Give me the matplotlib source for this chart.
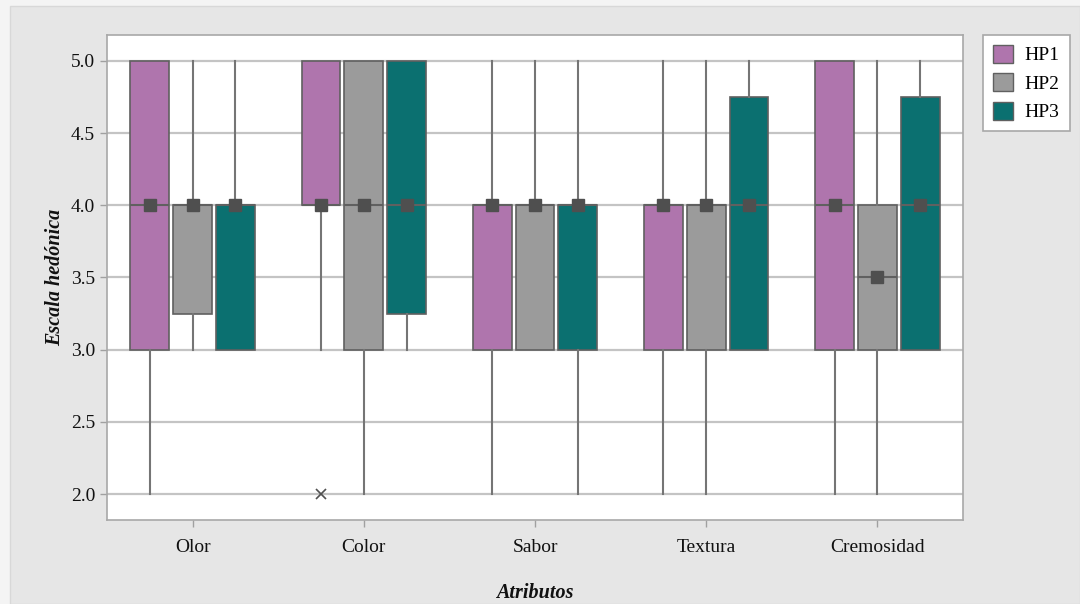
import matplotlib
matplotlib.use("Agg")
import matplotlib.pyplot as plt
from matplotlib.patches import Rectangle, Patch

categories = ["Olor", "Color", "Sabor", "Textura", "Cremosidad"]
series = ["HP1", "HP2", "HP3"]
colors = ["#AF75AD", "#9B9B9B", "#0B7070"]

# per series: lists over categories
q1 = {"HP1": [3, 4, 3, 3, 3],
      "HP2": [3.25, 3, 3, 3, 3],
      "HP3": [3, 3.25, 3, 3, 3]}
med = {"HP1": [4, 4, 4, 4, 4],
       "HP2": [4, 4, 4, 4, 3.5],
       "HP3": [4, 4, 4, 4, 4]}
q3 = {"HP1": [5, 5, 4, 4, 5],
      "HP2": [4, 5, 4, 4, 4],
      "HP3": [4, 5, 4, 4.75, 4.75]}
wlo = {"HP1": [2, 3, 2, 2, 2],
       "HP2": [3, 2, 3, 2, 2],
       "HP3": [3, 3, 2, 3, 3]}
whi = {"HP1": [5, 5, 5, 5, 5],
       "HP2": [5, 5, 5, 5, 5],
       "HP3": [5, 5, 5, 5, 5]}
fliers = {"HP1": [[], [2], [], [], []],
          "HP2": [[], [], [], [], []],
          "HP3": [[], [], [], [], []]}

plt.rcParams["font.family"] = ["Liberation Serif", "DejaVu Serif"]

fig = plt.figure(figsize=(10.8, 6.04), dpi=100, facecolor="#F4F4F4")
bg = Rectangle((10 / 1080, 0), 1 - 10 / 1080, 1 - 6 / 604,
               transform=fig.transFigure, facecolor="#E6E6E6",
               edgecolor="#D8D8D8", lw=1, zorder=-5)
fig.patches.append(bg)
ax = fig.add_axes([107 / 1080, 1 - 520 / 604, (963 - 107) / 1080, (520 - 35) / 604])
ax.set_zorder(1)
ax.set_facecolor("white")

offsets = [-0.25, 0.0, 0.25]
width = 0.227
for si, s in enumerate(series):
    stats = []
    for ci in range(len(categories)):
        stats.append(dict(q1=q1[s][ci], med=med[s][ci], q3=q3[s][ci],
                          whislo=wlo[s][ci], whishi=whi[s][ci],
                          fliers=fliers[s][ci]))
    pos = [ci + offsets[si] for ci in range(len(categories))]
    ax.bxp(stats, positions=pos, widths=width, patch_artist=True,
           showcaps=False, manage_ticks=False,
           boxprops=dict(facecolor=colors[si], edgecolor="#606060", lw=1.2),
           whiskerprops=dict(color="#757575", lw=1.5),
           medianprops=dict(color="#606060", lw=1.5),
           flierprops=dict(marker="x", markeredgecolor="#505050", markersize=7, mew=1.2),
           zorder=3)
    ax.plot(pos, med[s], linestyle="none", marker="s", markersize=8,
            color="#4F4F4F", zorder=5)

ax.set_xlim(-0.5, 4.5)
ax.set_ylim(1.82, 5.18)
ax.set_yticks([2.0, 2.5, 3.0, 3.5, 4.0, 4.5, 5.0])
ax.set_yticklabels([f"{v:.1f}" for v in [2.0, 2.5, 3.0, 3.5, 4.0, 4.5, 5.0]])
ax.set_xticks(range(len(categories)))
ax.set_xticklabels(categories)
ax.yaxis.grid(True, color="#C4C4C4", lw=1.6, zorder=0)
ax.set_axisbelow(True)
for sp in ax.spines.values():
    sp.set_color("#A8A8A8")
    sp.set_linewidth(1.2)
ax.tick_params(axis="both", colors="#A0A0A0", labelcolor="#111111",
               labelsize=14, length=5, width=1)
ax.tick_params(axis="x", pad=9)
ax.set_xlabel("Atributos", fontsize=14.5, fontweight="bold", style="italic",
              labelpad=19, color="#111111")
ax.set_ylabel("Escala hedónica", fontsize=14.5, fontweight="bold", style="italic",
              labelpad=4, color="#111111")

handles = [Patch(facecolor=c, edgecolor="#606060", lw=1) for c in colors]
leg = fig.legend(handles, series, loc="upper left",
                 bbox_to_anchor=(983 / 1080, 1 - 35 / 604),
                 fontsize=14, frameon=True, fancybox=False,
                 edgecolor="#A8A8A8", framealpha=1, handlelength=1.05,
                 handleheight=1.05, handletextpad=0.6, labelspacing=0.45,
                 borderpad=0.5, borderaxespad=0)
leg.get_frame().set_linewidth(1.2)

fig.savefig("out.png", dpi=100, facecolor=fig.get_facecolor())
